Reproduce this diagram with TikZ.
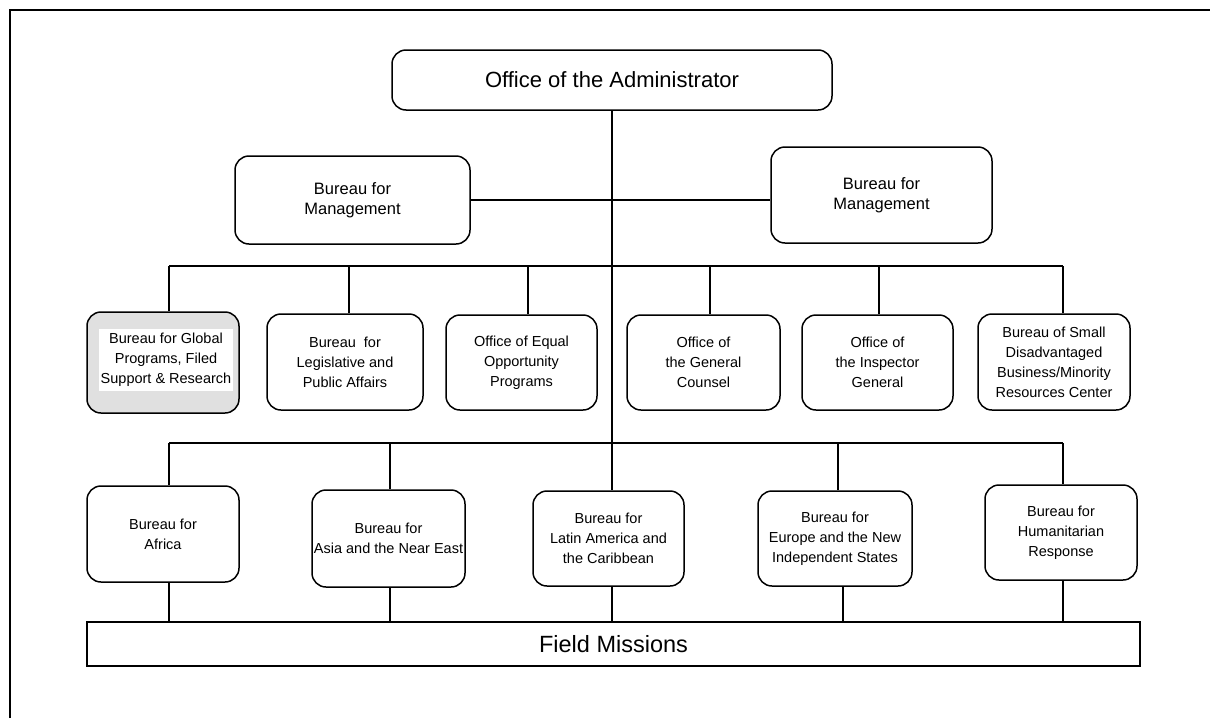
\documentclass[tikz,border=0pt]{standalone}
\usepackage{fontspec}
\setmainfont{Liberation Sans}
\definecolor{shade}{RGB}{224,224,224}
\begin{document}
\begin{tikzpicture}[x=1pt,y=-1pt,line width=1.5pt,
  rbox/.style={draw,rounded corners=14pt,align=center,inner sep=0pt,
    font=\fontsize{14.5}{20}\selectfont},
  bigbox/.style={draw,rounded corners=14pt,align=center,inner sep=0pt,
    font=\fontsize{16.5}{20.5}\selectfont},
  wire/.style={line width=1.5pt}]
\useasboundingbox (0,0) rectangle (1210,718);
% page frame
\draw (10,718) -- (10,10) -- (1210,10);

% top level
\node[draw,rounded corners=14pt,minimum width=440pt,minimum height=60pt,
  font=\fontsize{22}{26}\selectfont] (admin) at (612,80) {Office of the Administrator};
\node[bigbox,minimum width=235pt,minimum height=88pt] (mgmtL) at (352.5,200) {Bureau for\\Management};
\node[bigbox,minimum width=221pt,minimum height=96pt] (mgmtR) at (881.5,195) {Bureau for\\Management};

% second row
\node[rbox,fill=shade,minimum width=152pt,minimum height=101pt] (glob) at (163,362.5) {};
\node[fill=white,inner sep=0pt,minimum width=134pt,minimum height=62pt,align=center,
  font=\fontsize{14.5}{20}\selectfont] (globtxt) at (166,360) {Bureau for Global\\Programs, Filed\\Support \& Research};
\node[rbox,minimum width=156pt,minimum height=96pt] (leg) at (345,362) {Bureau\ \ for\\Legislative and\\Public Affairs};
\node[rbox,minimum width=151pt,minimum height=95pt] (equal) at (521.5,362.5) {Office of Equal\\Opportunity\\Programs};
\node[rbox,minimum width=153pt,minimum height=95pt] (counsel) at (703.5,362.5) {Office of\\the General\\Counsel};
\node[rbox,minimum width=151pt,minimum height=95pt] (insp) at (877.5,362.5) {Office of\\the Inspector\\General};
\node[rbox,minimum width=152pt,minimum height=96pt] (small) at (1054,362) {Bureau of Small\\Disadvantaged\\Business/Minority\\Resources Center};

% third row
\node[rbox,minimum width=152pt,minimum height=96pt] (africa) at (163,534) {Bureau for\\Africa};
\node[rbox,minimum width=153pt,minimum height=97pt] (asia) at (388.5,538.5) {Bureau for\\Asia and the Near East};
\node[rbox,minimum width=151pt,minimum height=95pt] (latin) at (608.5,538.5) {Bureau for\\Latin America and\\the Caribbean};
\node[rbox,minimum width=154pt,minimum height=95pt] (europe) at (835,538.5) {Bureau for\\Europe and the New\\Independent States};
\node[rbox,minimum width=152pt,minimum height=95pt] (human) at (1061,532.5) {Bureau for\\Humanitarian\\Response};

% field missions bar
\node[draw,minimum width=1053pt,minimum height=44pt,inner sep=0pt,
  font=\fontsize{23.5}{27}\selectfont] (field) at (613.5,644) {Field Missions};

% bus coordinates
\coordinate (trunk) at (612,110);
\coordinate (busA) at (169,266);
\coordinate (busB) at (1063,266);
\coordinate (busC) at (169,443);
\coordinate (busD) at (1063,443);

% connectors
\draw[wire] (admin.south -| trunk) -- (trunk |- latin.north);
\draw[wire] (mgmtL.east) -- (mgmtL.east -| mgmtR.west);
\draw[wire] (busA) -- (busB);
\draw[wire] (busC) -- (busD);

\foreach \bx/\nd in {169/glob,349/leg,528/equal,710/counsel,879/insp,1063/small}
  \draw[wire] (\bx,266) -- (\bx,266 |- \nd.north);
\foreach \bx/\nd in {169/africa,390/asia,838/europe,1063/human}
  \draw[wire] (\bx,443) -- (\bx,443 |- \nd.north);
\foreach \bx/\nd in {169/africa,390/asia,612/latin,843/europe,1063/human}
  \draw[wire] (\bx,0 |- \nd.south) -- (\bx,0 |- field.north);
\end{tikzpicture}
\end{document}
